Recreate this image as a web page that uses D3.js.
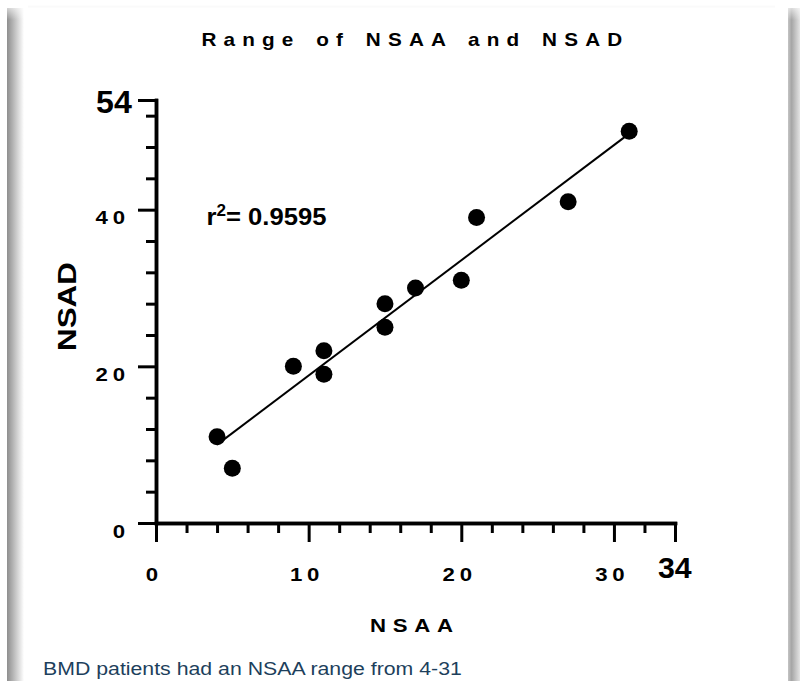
<!DOCTYPE html>
<html>
<head>
<meta charset="utf-8">
<script src="https://cdn.jsdelivr.net/npm/d3@7"></script>
<style>
  html, body { margin: 0; padding: 0; background: #fff; }
  svg { display: block; }
  text { font-family: "Liberation Sans", Arial, Helvetica, sans-serif; }
</style>
</head>
<body>
<svg id="chart" width="800" height="681"></svg>
<script>
// ---- data ----
const nsaa = [4, 5, 9, 11, 11, 15, 15, 17, 20, 21, 27, 31];
const nsad = [11, 7, 20, 22, 19, 28, 25, 30, 31, 39, 41, 50];
const xMajorTicks = [0, 10, 20, 30];
const yMajorTicks = [0, 20, 40];
const xMinorTicks = [2, 4, 6, 8, 12, 14, 16, 18, 22, 24, 26, 28, 32];
const yMinorTicks = [4, 8, 12, 16, 24, 28, 32, 36, 44, 48, 52];
const xMax = 34, yMax = 54;
const titleText = "Range of NSAA and NSAD";
const xTitle = "NSAA";
const yTitle = "NSAD";
const r2Value = "0.9595";
const footerText = "BMD patients had an NSAA range from 4-31";

const svg = d3.select("#chart");

// ---- card frame / shadow ----
const defs = svg.append("defs");
const gl = defs.append("linearGradient").attr("id", "shL").attr("x1", 0).attr("x2", 1).attr("y1", 0).attr("y2", 0);
gl.append("stop").attr("offset", 0).attr("stop-color", "#8e8e8e");
gl.append("stop").attr("offset", 0.35).attr("stop-color", "#b4b4b4");
gl.append("stop").attr("offset", 1).attr("stop-color", "#ffffff");
const gr = defs.append("linearGradient").attr("id", "shR").attr("x1", 0).attr("x2", 1).attr("y1", 0).attr("y2", 0);
gr.append("stop").attr("offset", 0).attr("stop-color", "#c4c4c4");
gr.append("stop").attr("offset", 0.3).attr("stop-color", "#a6a6a6");
gr.append("stop").attr("offset", 1).attr("stop-color", "#e4e4e4");
const gt = defs.append("linearGradient").attr("id", "fadeT").attr("x1", 0).attr("x2", 0).attr("y1", 0).attr("y2", 1);
gt.append("stop").attr("offset", 0).attr("stop-color", "#fff").attr("stop-opacity", 1);
gt.append("stop").attr("offset", 1).attr("stop-color", "#fff").attr("stop-opacity", 0);

svg.append("rect").attr("x", 0).attr("y", 0).attr("width", 800).attr("height", 681).attr("fill", "#fff");
svg.append("line").attr("x1", 28).attr("x2", 775).attr("y1", 6.5).attr("y2", 6.5)
  .attr("stroke", "#f0f0f0").attr("stroke-width", 2);
svg.append("rect").attr("x", 7).attr("y", 8).attr("width", 17).attr("height", 673).attr("fill", "url(#shL)");
svg.append("rect").attr("x", 788).attr("y", 8).attr("width", 12).attr("height", 673).attr("fill", "url(#shR)");
svg.append("rect").attr("x", 0).attr("y", 0).attr("width", 800).attr("height", 20).attr("fill", "url(#fadeT)");

// ---- scales ----
const x = d3.scaleLinear().domain([0, xMax]).range([156, 675]);
const y = d3.scaleLinear().domain([0, yMax]).range([523, 100]);

// helper: place text with horizontal stretch; optional spacing fit
function placeText(g, str, opts) {
  const t = g.append("text").text(str)
    .attr("font-size", opts.size).attr("font-weight", opts.weight || "bold")
    .attr("fill", opts.fill || "#000");
  let ls = opts.ls || 0, ws = opts.ws || 0;
  if (opts.fitSpacing) {
    const w0 = t.node().getBBox().width;
    const nGaps = str.length - 1;
    const nSpaces = (str.match(/ /g) || []).length;
    ls = (opts.width / opts.sx - w0) / (nGaps + nSpaces * opts.wsRatio);
    ws = ls * opts.wsRatio;
  }
  t.style("letter-spacing", ls + "px").style("word-spacing", ws + "px");
  const bb = t.node().getBBox();
  const w = bb.width - ls;
  const sx = (opts.width && !opts.fitSpacing) ? opts.width / w : (opts.sx || 1);
  let dx;
  if (opts.anchor === "start") dx = opts.x - bb.x * sx;
  else if (opts.anchor === "end") dx = opts.x - (bb.x + w) * sx;
  else dx = opts.x - (bb.x + w / 2) * sx;
  if (opts.rotate) {
    t.attr("transform", `translate(${opts.px},${opts.py}) rotate(${opts.rotate}) translate(${-(bb.x + w / 2) * sx},0) scale(${sx},1)`);
  } else {
    t.attr("transform", `translate(${dx},${opts.y}) scale(${sx},1)`);
  }
  return t;
}

// ---- axes ----
function styleAxis(g, sw) {
  g.selectAll(".domain").attr("stroke", "#000").attr("stroke-width", sw).attr("stroke-linecap", "square");
  g.selectAll(".tick line").attr("stroke", "#000").attr("stroke-width", 3);
  g.selectAll(".tick text").remove();
}
const xAxisMinor = svg.append("g").attr("transform", "translate(0,523)")
  .call(d3.axisBottom(x).tickValues(xMinorTicks).tickSize(10).tickSizeOuter(0).tickFormat(""));
styleAxis(xAxisMinor, 3.5);
const xAxisMajor = svg.append("g").attr("transform", "translate(0,523)")
  .call(d3.axisBottom(x).tickValues(xMajorTicks.concat([xMax])).tickSize(19).tickSizeOuter(0).tickFormat(""));
styleAxis(xAxisMajor, 3.5);
const yAxisMinor = svg.append("g").attr("transform", "translate(156,0)")
  .call(d3.axisLeft(y).tickValues(yMinorTicks).tickSize(10).tickSizeOuter(0).tickFormat(""));
styleAxis(yAxisMinor, 3.5);
const yAxisMajor = svg.append("g").attr("transform", "translate(156,0)")
  .call(d3.axisLeft(y).tickValues(yMajorTicks.concat([yMax])).tickSize(18).tickSizeOuter(0).tickFormat(""));
styleAxis(yAxisMajor, 3.5);

// ---- tick labels ----
const labels = svg.append("g");
xMajorTicks.forEach(v => {
  placeText(labels, String(v), { size: 18.5, ls: 4, sx: 1.2, anchor: "middle", x: x(v) - 4, y: 580.5 });
});
yMajorTicks.forEach(v => {
  placeText(labels, String(v), { size: 18.5, ls: 4, sx: 1.2, anchor: "end", x: 125, y: y(v) + 14.5 });
});
placeText(labels, String(yMax), { size: 32, anchor: "end", x: 132, y: 113, width: 36 });
placeText(labels, String(xMax), { size: 30, anchor: "start", x: 658, y: 578, width: 34 });

// ---- titles ----
placeText(svg, titleText, { size: 18, fitSpacing: true, sx: 1.15, wsRatio: 0.4, anchor: "middle", x: 412, y: 46, width: 421 });
placeText(svg, xTitle, { size: 18.5, fitSpacing: true, sx: 1.2, wsRatio: 0, anchor: "middle", x: 411.5, y: 632, width: 83 });
placeText(svg, yTitle, { size: 25, ls: 0, rotate: -90, px: 75.5, py: 306.5, width: 89 });

// ---- regression line ----
const mx = d3.mean(nsaa), my = d3.mean(nsad);
const sxy = d3.sum(nsaa.map((v, i) => (v - mx) * (nsad[i] - my)));
const sxx = d3.sum(nsaa.map(v => (v - mx) * (v - mx)));
const slope = sxy / sxx, intercept = my - slope * mx;
const xr = d3.extent(nsaa);
svg.append("line")
  .attr("x1", x(xr[0])).attr("y1", y(intercept + slope * xr[0]))
  .attr("x2", x(xr[1])).attr("y2", y(intercept + slope * xr[1]))
  .attr("stroke", "#000").attr("stroke-width", 2);

// ---- points ----
svg.append("g").selectAll("circle").data(nsaa).join("circle")
  .attr("cx", d => x(d)).attr("cy", (d, i) => y(nsad[i])).attr("r", 8.5).attr("fill", "#000");

// ---- r² annotation ----
const r2 = svg.append("text").attr("font-size", 24).attr("font-weight", "bold").attr("fill", "#000");
r2.append("tspan").text("r");
r2.append("tspan").text("2").attr("font-size", 16).attr("dy", -9);
r2.append("tspan").text("= " + r2Value).attr("dy", 9);
{
  const bb = r2.node().getBBox();
  const sx = 120 / bb.width;
  r2.attr("transform", `translate(${206.5 - bb.x * sx},225) scale(${sx},1)`);
}

// ---- footer ----
placeText(svg, footerText, { size: 18.5, weight: "normal", fill: "#1d3f5c", anchor: "start", x: 43, y: 675, width: 419 });
</script>
</body>
</html>
